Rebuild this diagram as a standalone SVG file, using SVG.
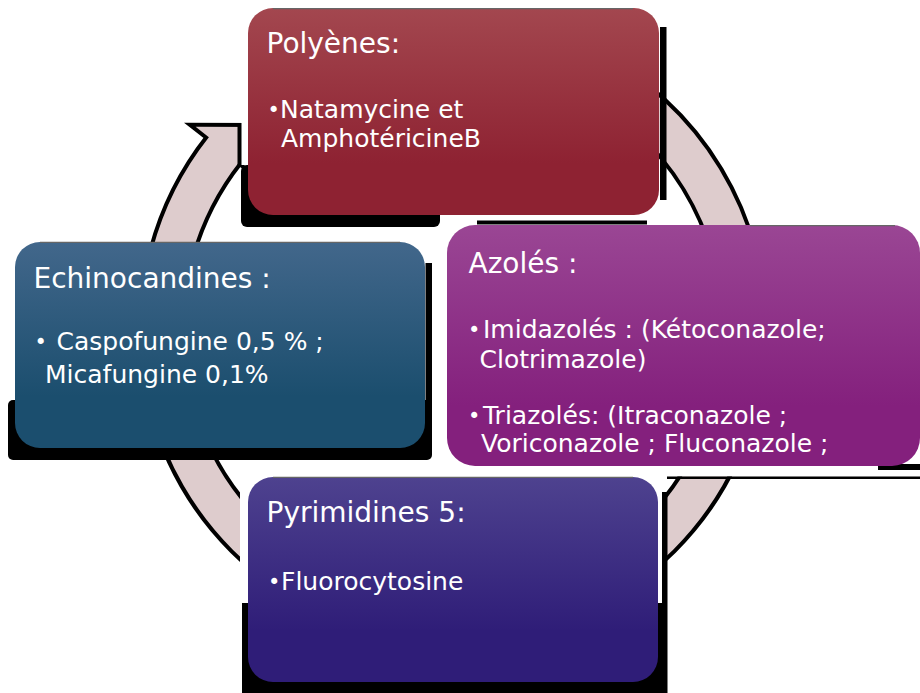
<svg xmlns="http://www.w3.org/2000/svg" width="920" height="693" viewBox="0 0 920 693">
<defs>
  <linearGradient id="gP" x1="0" y1="0" x2="0" y2="1"><stop offset="0" stop-color="#A3474F"/><stop offset="0.75" stop-color="#8E2232"/></linearGradient>
  <linearGradient id="gE" x1="0" y1="0" x2="0" y2="1"><stop offset="0" stop-color="#42678B"/><stop offset="0.75" stop-color="#1B4E6E"/></linearGradient>
  <linearGradient id="gA" x1="0" y1="0" x2="0" y2="1"><stop offset="0" stop-color="#9A4694"/><stop offset="0.75" stop-color="#84207D"/></linearGradient>
  <linearGradient id="gY" x1="0" y1="0" x2="0" y2="1"><stop offset="0" stop-color="#4E428F"/><stop offset="0.75" stop-color="#2F1D78"/></linearGradient>
</defs>
<style>
  .arc{fill:#DECCCD;stroke:#000;stroke-width:8;paint-order:stroke;stroke-linejoin:miter}
  .sh{fill:#000}
  .wh{fill:#fff}
  .edge{stroke:#666;stroke-width:1.2;fill:none}
  .t{font-family:"DejaVu Sans",Verdana,sans-serif;fill:#fff}
  .ti{font-size:28px}
  .b{font-size:25px}
  .bu{font-size:21px}
</style>
<rect width="920" height="693" fill="#fff"/>
<g id="connectors">
  <path class="arc" d="M507.0,23.7 A311,311 0 0 1 753.4,249.5 L715.7,259.6 A272,272 0 0 0 500.2,62.1 Z"/>
  <path class="arc" d="M753.4,410.5 A311,311 0 0 1 533.5,630.4 L523.4,592.7 A272,272 0 0 0 715.7,400.4 Z"/>
  <path class="arc" d="M372.5,630.4 A311,311 0 0 1 152.6,410.5 L190.3,400.4 A272,272 0 0 0 382.6,592.7 Z"/>
  <path class="arc" d="M152.6,249.5 A311,311 0 0 1 208.9,137.2 L195.6,126.7 L265,127 L252.9,172 L239.5,161.4 A272,272 0 0 0 190.3,259.6 Z"/>
</g>
<g id="node-polyenes">
  <rect class="wh" x="241" y="85" width="7" height="80"/>
  <rect class="sh" x="237.5" y="123" width="4" height="42"/>
  <rect class="sh" x="241" y="165" width="199" height="62" rx="6"/>
  <rect class="sh" x="660" y="27" width="6.5" height="173"/>
  <rect x="248" y="8" width="411" height="207" rx="25" fill="url(#gP)"/>
  <line class="edge" x1="273" y1="8.6" x2="633" y2="8.6"/>
  <text class="t ti" x="266.5" y="53">Polyènes:</text>
  <text class="t b"><tspan class="bu" x="267.5" y="117">•</tspan><tspan x="280" y="118">Natamycine et</tspan></text>
  <text class="t b" x="281" y="147">AmphotéricineB</text>
</g>
<g id="node-azoles">
  <rect class="sh" x="477" y="220.5" width="170" height="4"/>
  <rect class="wh" x="659" y="466" width="261" height="10.5"/>
  <rect class="sh" x="667" y="476.5" width="253" height="2.5"/>
  <rect class="sh" x="878" y="464" width="42" height="6"/>
  <rect x="447" y="225" width="473" height="241" rx="28" fill="url(#gA)"/>
  <line class="edge" x1="750" y1="225.6" x2="895" y2="225.6"/>
  <text class="t ti" x="468.5" y="273">Azolés :</text>
  <text class="t b"><tspan class="bu" x="468" y="337">•</tspan><tspan x="483" y="338">Imidazolés : (Kétoconazole;</tspan></text>
  <text class="t b" x="479.5" y="368">Clotrimazole)</text>
  <text class="t b"><tspan class="bu" x="468" y="423">•</tspan><tspan x="483" y="424">Triazolés: (Itraconazole ;</tspan></text>
  <text class="t b" x="481" y="452">Voriconazole ; Fluconazole ;</text>
</g>
<g id="node-pyrimidines">
  <rect class="wh" x="240" y="462" width="8" height="141"/>
  <rect class="wh" x="658" y="485" width="4" height="208"/>
  <rect class="sh" x="242" y="603" width="420" height="90"/>
  <rect class="sh" x="662" y="492" width="5.5" height="201"/>
  <rect x="248" y="477" width="410" height="205" rx="25" fill="url(#gY)"/>
  <line class="edge" x1="273" y1="477.4" x2="633" y2="477.4"/>
  <text class="t ti" x="266.5" y="522">Pyrimidines 5:</text>
  <text class="t b"><tspan class="bu" x="268" y="589">•</tspan><tspan x="281" y="590">Fluorocytosine</tspan></text>
</g>
<g id="node-echinocandines">
  <rect class="sh" x="8" y="400" width="424" height="60" rx="5"/>
  <rect class="sh" x="425.5" y="263" width="6.5" height="190"/>
  <rect x="15" y="242" width="410" height="206" rx="25" fill="url(#gE)"/>
  <line class="edge" x1="40" y1="242.4" x2="400" y2="242.4"/>
  <text class="t ti" x="33.5" y="288">Echinocandines :</text>
  <text class="t b"><tspan class="bu" x="34.5" y="349">•</tspan><tspan x="56.5" y="350">Caspofungine 0,5 % ;</tspan></text>
  <text class="t b" x="45" y="383">Micafungine 0,1%</text>
</g>
</svg>
